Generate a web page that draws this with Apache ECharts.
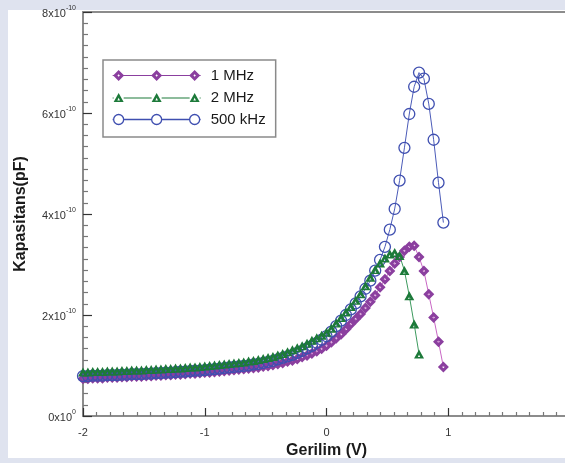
<!DOCTYPE html>
<html lang="tr">
<head>
    <meta charset="UTF-8">
    <title>Kapasitans - Gerilim</title>
    <script src="https://cdn.jsdelivr.net/npm/echarts@6/dist/echarts.min.js"></script>
</head>
<style>
html,body{margin: 0;padding: 0;background-color: #dfe3ef}
#panel{position: absolute;left: 8px;top: 10px;width: 557px;height: 448px;background-color: #fff}
#chartBox{position: absolute;left: 0;top: 0;width: 565px;height: 463px}
</style>
<body>
    <div id="panel"></div>
    <div id="chartBox"></div>
</body>
<script>
// Gerilim (V)
const voltage = [
    -2.00,-1.96,-1.92,-1.88,-1.84,-1.80,-1.76,-1.72,-1.68,-1.64,
    -1.60,-1.56,-1.52,-1.48,-1.44,-1.40,-1.36,-1.32,-1.28,-1.24,
    -1.20,-1.16,-1.12,-1.08,-1.04,-1.00,-0.96,-0.92,-0.88,-0.84,
    -0.80,-0.76,-0.72,-0.68,-0.64,-0.60,-0.56,-0.52,-0.48,-0.44,
    -0.40,-0.36,-0.32,-0.28,-0.24,-0.20,-0.16,-0.12,-0.08,-0.04,
    0.00,0.04,0.08,0.12,0.16,0.20,0.24,0.28,0.32,0.36,
    0.40,0.44,0.48,0.52,0.56,0.60,0.64,0.68,0.72,0.76,
    0.80,0.84,0.88,0.92,0.96
];

// kapasitans, x10^-10
const cap1MHz = [
    .74,.74,.75,.75,.75,.76,.76,.76,.77,.77,
    .78,.78,.78,.79,.79,.80,.80,.81,.81,.82,
    .82,.83,.84,.84,.85,.86,.86,.87,.88,.89,
    .90,.91,.92,.93,.94,.95,.96,.98,.99,1.01,
    1.03,1.05,1.08,1.10,1.13,1.17,1.20,1.24,1.28,1.33,
    1.39,1.46,1.54,1.62,1.72,1.82,1.92,2.02,2.14,2.26,
    2.39,2.55,2.71,2.87,3.02,3.15,3.27,3.35,3.37,3.15,
    2.87,2.41,1.95,1.47,0.97
];
const cap2MHz = [
    .87,.87,.88,.88,.88,.89,.89,.89,.90,.90,
    .91,.91,.91,.92,.92,.93,.93,.94,.94,.95,
    .95,.96,.97,.97,.98,.99,1.00,1.01,1.02,1.03,
    1.04,1.05,1.06,1.07,1.09,1.10,1.12,1.14,1.16,1.18,
    1.21,1.24,1.27,1.31,1.35,1.39,1.44,1.50,1.55,1.60,
    1.66,1.74,1.84,1.95,2.06,2.17,2.29,2.42,2.58,2.75,
    2.90,3.03,3.13,3.21,3.24,3.18,2.88,2.38,1.82,1.23
];
const cap500kHz = [
    .79,.79,.80,.80,.80,.81,.81,.81,.82,.82,
    .83,.83,.83,.84,.84,.85,.85,.86,.86,.87,
    .88,.88,.89,.90,.90,.91,.92,.93,.94,.95,
    .96,.97,.98,.99,1.00,1.02,1.03,1.05,1.07,1.09,
    1.12,1.15,1.18,1.21,1.25,1.29,1.34,1.39,1.45,1.51,
    1.58,1.67,1.78,1.89,2.00,2.11,2.23,2.37,2.52,2.68,
    2.88,3.09,3.35,3.69,4.10,4.66,5.31,5.98,6.52,6.80,
    6.68,6.18,5.47,4.62,3.83
];

const PURPLE = '#8b3f9f', PURPLE_LINE = '#c866c4';
const GREEN = '#1d7a3a', GREEN_LINE = '#3d9a5e';
const BLUE = '#3f4fb0', BLUE_LINE = '#4b5bb8';
const FONT = 'Liberation Sans, Arial, sans-serif';

// legend icons: line with three markers
const seg = (a, b) => `M${a},5.4L${b},5.4L${b},6.6L${a},6.6Z`;
const segs = seg(0,1) + seg(11,39) + seg(49,77) + seg(87,88);
const diamond = c => `M${c},0.5L${c+5.5},6L${c},11.5L${c-5.5},6Z M${c},4.8L${c-1.2},6L${c},7.2L${c+1.2},6Z`;
const tri = c => `M${c},1L${c+5},10L${c-5},10Z M${c},5.8L${c-1.3},8.4L${c+1.3},8.4Z`;
const circ = c => `M${c-5},6A5,5 0 1 1 ${c+5},6A5,5 0 1 1 ${c-5},6`;
const iconPurple = 'path://' + segs + [6,44,82].map(diamond).join('');
const iconGreen = 'path://' + segs + [6,44,82].map(tri).join('');
const iconBlue = 'path://M0,6L1,6M11,6L39,6M49,6L77,6M87,6L88,6' + [6,44,82].map(circ).join('');

function pairs(vals){
    return vals.map((v, i) => [voltage[i], v]);
}

let chartObj = echarts.init(document.getElementById('chartBox'));
chartObj.setOption({
    animation: false,
    textStyle: {fontFamily: FONT},
    grid: {
        left: 83, top: 12, right: -5, bottom: 47,
        containLabel: false, outerBoundsMode: 'none',
        show: true, borderColor: '#8c8c8c', borderWidth: 2
    },
    legend: {
        left: 103, top: 60, orient: 'vertical',
        itemWidth: 88, itemHeight: 12, itemGap: 7,
        padding: [8, 10, 10, 9],
        borderColor: '#8a8a8a', borderWidth: 1.5, backgroundColor: '#fff',
        textStyle: {fontSize: 15, color: '#1a1a1a', padding: [0, 0, 0, 5]},
        data: [
            {name: '1 MHz', icon: iconPurple, itemStyle: {color: PURPLE, borderWidth: 0}},
            {name: '2 MHz', icon: iconGreen, itemStyle: {color: GREEN, borderWidth: 0}},
            {name: '500 kHz', icon: iconBlue, itemStyle: {color: 'rgba(0,0,0,0)', borderColor: BLUE, borderWidth: 1.3}}
        ]
    },
    xAxis: {
        type: 'value', min: -2, max: 2, interval: 1,
        name: 'Gerilim (V)', nameLocation: 'middle', nameGap: 26,
        nameTextStyle: {fontSize: 16, fontWeight: 'bold', color: '#1a1a1a'},
        axisLine: {onZero: false, lineStyle: {color: '#8c8c8c', width: 2}},
        axisTick: {inside: true, length: 8, lineStyle: {color: '#333', width: 1.2}},
        minorTick: {show: true, splitNumber: 9, length: 4, lineStyle: {color: '#777', width: 1.2}},
        axisLabel: {fontSize: 11, color: '#333', margin: 11},
        splitLine: {show: false}
    },
    yAxis: {
        type: 'value', min: 0, max: 8, interval: 2,
        name: 'Kapasitans(pF)', nameLocation: 'middle', nameGap: 54,
        nameTextStyle: {fontSize: 16, fontWeight: 'bold', color: '#1a1a1a'},
        axisLine: {onZero: false, lineStyle: {color: '#8c8c8c', width: 2}},
        axisTick: {inside: true, length: 9, lineStyle: {color: '#333', width: 1.2}},
        minorTick: {show: true, splitNumber: 9, length: 5, lineStyle: {color: '#777', width: 1.2}},
        axisLabel: {
            margin: 7,
            formatter: v => v === 0 ? '{m|0x10}{e|0}' : '{m|' + v + 'x10}{e|-10}',
            rich: {
                m: {fontSize: 11, color: '#333', fontFamily: FONT, verticalAlign: 'bottom', lineHeight: 14},
                e: {fontSize: 7, color: '#333', fontFamily: FONT, verticalAlign: 'top', lineHeight: 14}
            }
        },
        splitLine: {show: false}
    },
    series: [
        {
            type: 'line', name: '1 MHz', data: pairs(cap1MHz), clip: false, showAllSymbol: true,
            symbol: 'path://M0,-5L5,0L0,5L-5,0Z M0,-1.1L-1.1,0L0,1.1L1.1,0Z', symbolSize: 11,
            itemStyle: {color: PURPLE},
            lineStyle: {color: PURPLE_LINE, width: 1}
        },
        {
            type: 'line', name: '500 kHz', data: pairs(cap500kHz), clip: false, showAllSymbol: true,
            symbol: 'circle', symbolSize: 11,
            itemStyle: {color: 'rgba(0,0,0,0)', borderColor: BLUE, borderWidth: 1.3},
            lineStyle: {color: BLUE_LINE, width: 1}
        },
        {
            type: 'line', name: '2 MHz', data: pairs(cap2MHz), clip: false, showAllSymbol: true,
            symbol: 'path://M0,-5L5,4L-5,4Z M0,0.3L-1.2,2.6L1.2,2.6Z', symbolSize: [10, 9],
            itemStyle: {color: GREEN},
            lineStyle: {color: GREEN_LINE, width: 1}
        }
    ]
});
</script>
</html>
